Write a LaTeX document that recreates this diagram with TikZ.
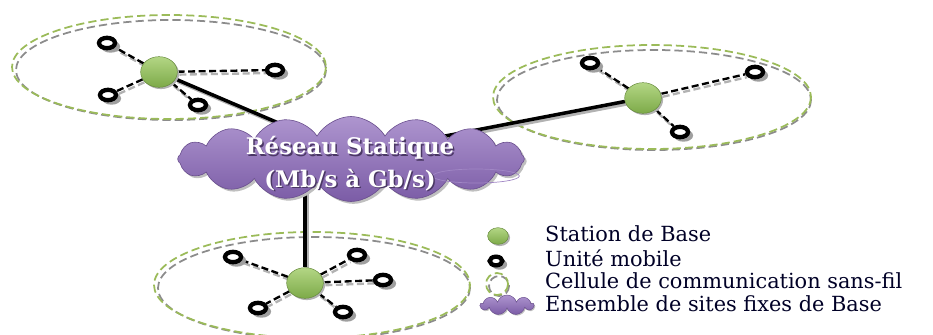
\documentclass[tikz,border=0pt]{standalone}
\usepackage{fontspec}
\setmainfont{DejaVu Serif}
\usetikzlibrary{shapes.symbols,shapes.geometric,shadows,backgrounds}
\definecolor{cellgreen}{HTML}{9BBB59}
\definecolor{cellgray}{HTML}{8C8C8C}
\definecolor{basetop}{HTML}{B3D685}
\definecolor{basebot}{HTML}{7DAA48}
\definecolor{cloudtop}{HTML}{AE95CF}
\definecolor{cloudbot}{HTML}{7B5CA6}
\tikzset{
  cellg/.style={draw=cellgreen, line width=1.5pt, dash pattern=on 7pt off 3.5pt},
  cellk/.style={draw=cellgray, line width=1.5pt, dash pattern=on 7pt off 3.5pt},
  mobile/.style={ellipse, draw=black, fill=white, line width=3.7pt, minimum width=0.48cm, minimum height=0.31cm, inner sep=0pt,
    drop shadow={shadow xshift=2.5pt, shadow yshift=-2.5pt, shadow scale=1.2, fill=gray!75, opacity=1}},
  basest/.style={ellipse, draw=basebot!80!black, line width=0.4pt, top color=basetop, bottom color=basebot, minimum width=1.1cm, minimum height=0.92cm, inner sep=0pt,
    drop shadow={shadow xshift=1.5pt, shadow yshift=-1.5pt, fill=gray!60, opacity=1}},
  link/.style={draw=black, line width=2pt, dash pattern=on 6pt off 3pt},
  linksh/.style={draw=gray!60, line width=2pt, dash pattern=on 6pt off 3pt, transform canvas={shift={(1.5pt,-2.5pt)}}},
  trunk/.style={draw=black, line width=3pt},
  trunksh/.style={draw=gray!60, line width=3pt, transform canvas={shift={(2pt,-2pt)}}},
  cloudtxt/.style={font=\bfseries\fontsize{19.5}{22}\selectfont, text=white},
  cloudsh/.style={font=\bfseries\fontsize{19.5}{22}\selectfont, text=cloudbot!60!black},
  legtxt/.style={anchor=base west, font=\fontsize{17.8}{19}\selectfont, text=black!85!blue, inner sep=0pt},
}
\begin{document}
\begin{tikzpicture}[x=0.03cm, y=-0.03cm]
\useasboundingbox (0,0) rectangle (933,334);

% cloud
\node[cloud, cloud puffs=16, cloud puff arc=120, aspect=4, minimum width=10.4cm, minimum height=2.55cm,
  top color=cloudtop, bottom color=cloudbot, draw=cloudbot!85!black, line width=0.5pt,
  drop shadow={shadow xshift=2pt, shadow yshift=-2pt, fill=gray!50, opacity=1}] (cloud) at (351,159) {};
\node[ellipse, draw=cloudtop!75!cloudbot, line width=0.6pt, minimum width=2.6cm, minimum height=0.42cm, inner sep=0pt] (lens) at (476,176) {};
\node[cloudsh] (t1s) at (351.5,149.5) {Réseau Statique};
\node[cloudtxt] (t1) at (350,148) {Réseau Statique};
\node[cloudsh] (t2s) at (351.5,181.5) {(Mb/s à Gb/s)};
\node[cloudtxt] (t2) at (350,180) {(Mb/s à Gb/s)};
\coordinate (ca) at (330,145);
\coordinate (cb) at (440,137);
\coordinate (cc) at (305,170);

% cell A (top left)
\node[basest] (bA) at (159,72) {};
\node[mobile] (a1) at (107,43) {};
\node[mobile] (a2) at (275,70) {};
\node[mobile] (a3) at (108,95) {};
\node[mobile] (a4) at (198,105) {};
% cell B (top right)
\node[basest] (bB) at (643,98) {};
\node[mobile] (b1) at (590,63) {};
\node[mobile] (b2) at (755,72) {};
\node[mobile] (b3) at (680,132) {};
% cell C (bottom)
\node[basest] (bC) at (305,283) {};
\node[mobile] (c1) at (233,257) {};
\node[mobile] (c2) at (357,255) {};
\node[mobile] (c3) at (383,280) {};
\node[mobile] (c4) at (258,308) {};
\node[mobile] (c5) at (343,312) {};

\begin{scope}[on background layer]
  \draw[cellk] (171,70) ellipse [x radius=155, y radius=50];
  \draw[cellg] (169,67) ellipse [x radius=157, y radius=52];
  \draw[cellk] (654,100) ellipse [x radius=157, y radius=50];
  \draw[cellg] (652,97) ellipse [x radius=159, y radius=52];
  \draw[cellk] (314,288) ellipse [x radius=156, y radius=51];
  \draw[cellg] (312,285) ellipse [x radius=158, y radius=53];
  \foreach \s/\t in {bA/a1,bA/a2,bA/a3,bA/a4,bB/b1,bB/b2,bB/b3,bC/c1,bC/c2,bC/c3,bC/c4,bC/c5}{
    \draw[linksh] (\s) -- (\t);
    \draw[link] (\s) -- (\t);
  }
  \draw[trunksh] (bA) -- (ca);
  \draw[trunksh] (bB) -- (cb);
  \draw[trunksh] (bC) -- (cc);
  \draw[trunk] (bA) -- (ca);
  \draw[trunk] (bB) -- (cb);
  \draw[trunk] (bC) -- (cc);
\end{scope}

% legend
\node[basest, minimum width=0.62cm, minimum height=0.5cm] (lg1) at (498,236) {};
\node[mobile, minimum width=0.38cm, minimum height=0.26cm] (lg2) at (496,261) {};
\node[circle, minimum size=0.62cm, inner sep=0pt] (lg3) at (498,285) {};
\draw[cellk] (499,286) circle [radius=10];
\draw[cellg] (497,284) circle [radius=11];
\node[cloud, cloud puffs=9, aspect=2.8, minimum width=1.6cm, minimum height=0.6cm, inner sep=0pt,
  top color=cloudtop, bottom color=cloudbot, draw=cloudbot!85!black, line width=0.4pt,
  drop shadow={shadow xshift=1pt, shadow yshift=-1pt, fill=gray!50, opacity=1}] (lg4) at (507,305) {};
\node[legtxt] (l1) at (545,241) {Station de Base};
\node[legtxt] (l2) at (545,266) {Unité mobile};
\node[legtxt] (l3) at (545,288) {Cellule de communication sans-fil};
\node[legtxt] (l4) at (545,311) {Ensemble de sites fixes de Base};
\end{tikzpicture}
\end{document}
